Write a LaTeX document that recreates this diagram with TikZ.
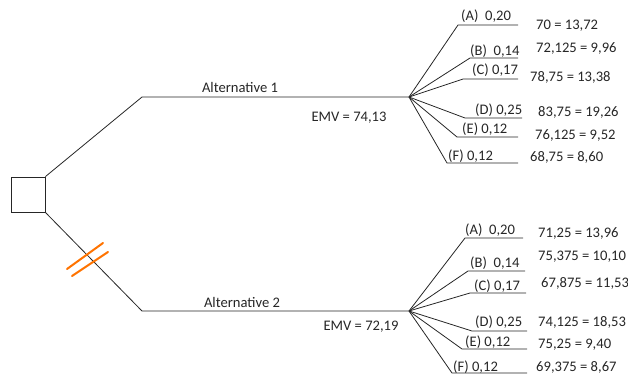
\documentclass[tikz,border=0pt]{standalone}
\usepackage{fontspec}
\setmainfont{Carlito}
\begin{document}
\begin{tikzpicture}[x=1pt,y=-1pt,
  ln/.style={draw=black!85,line width=0.8pt},
  lbl/.style={anchor=west,inner sep=0pt,text=black!85,font=\fontsize{14.6}{16}\selectfont},
  strike/.style={draw=orange!90!red,line width=2pt,line cap=round}]
\useasboundingbox (0,0) rectangle (628,378);
% decision node
\node[draw=black!85,line width=0.8pt,minimum width=34pt,minimum height=35pt,inner sep=0pt] (dec) at (28,194.5) {};
\coordinate (k1) at (142,97);
\coordinate (o1) at (409,97);
\coordinate (k2) at (142,311);
\coordinate (o2) at (409,311);
\draw[ln] (dec.north east) -- (k1) -- (o1);
\draw[ln] (dec.south east) -- (k2) -- (o2);
\node[lbl,anchor=center] (alt1) at (240,87) {Alternative 1};
\node[lbl,anchor=center] (alt2) at (242,302) {Alternative 2};
\node[lbl,anchor=center] (emv1) at (349,118) {EMV = 74,13};
\node[lbl,anchor=center] (emv2) at (361,327) {EMV = 72,19};
% orange strikes
\coordinate (s1a) at (67,269); \coordinate (s1b) at (103,243);
\coordinate (s2a) at (72,276); \coordinate (s2b) at (108,252);
\draw[strike] (s1a) -- (s1b);
\draw[strike] (s2a) -- (s2b);
% top fan
\foreach \n/\xs/\y/\xe in {a/458/25/518, b/470/58/518, c/463/79/518, d/465/118/522, e/457/137/518, f/447/163/518}{
  \coordinate (t\n s) at (\xs,\y); \coordinate (t\n e) at (\xe,\y);
  \draw[ln] (o1) -- (t\n s) -- (t\n e);
}
\node[lbl] (tal) at (461,16) {(A)\ \ 0,20};
\node[lbl] (tbl) at (470,51) {(B)\ \ 0,14};
\node[lbl] (tcl) at (472,70) {(C) 0,17};
\node[lbl] (tdl) at (475,110) {(D) 0,25};
\node[lbl] (tel) at (462,129) {(E) 0,12};
\node[lbl] (tfl) at (448,156) {(F) 0,12};
\node[lbl] (tav) at (536,26) {70 = 13,72};
\node[lbl] (tbv) at (536,49) {72,125 = 9,96};
\node[lbl] (tcv) at (530,77) {78,75 = 13,38};
\node[lbl] (tdv) at (538,112) {83,75 = 19,26};
\node[lbl] (tev) at (535,135) {76,125 = 9,52};
\node[lbl] (tfv) at (530,157) {68,75 = 8,60};
% bottom fan
\foreach \n/\xs/\y/\xe in {a/465/238/523, b/468/271/525, c/470/293/526, d/472/331/527, e/462/349/527, f/452/373/527}{
  \coordinate (b\n s) at (\xs,\y); \coordinate (b\n e) at (\xe,\y);
  \draw[ln] (o2) -- (b\n s) -- (b\n e);
}
\node[lbl] (bal) at (465,230) {(A)\ \ 0,20};
\node[lbl] (bbl) at (470,263) {(B)\ \ 0,14};
\node[lbl] (bcl) at (474,286) {(C) 0,17};
\node[lbl] (bdl) at (475,322) {(D) 0,25};
\node[lbl] (bel) at (465,342) {(E) 0,12};
\node[lbl] (bfl) at (453,367) {(F) 0,12};
\node[lbl] (bav) at (538,233) {71,25 = 13,96};
\node[lbl] (bbv) at (538,257) {75,375 = 10,10};
\node[lbl] (bcv) at (541,283) {67,875 = 11,53};
\node[lbl] (bdv) at (538,322) {74,125 = 18,53};
\node[lbl] (bev) at (538,345) {75,25 = 9,40};
\node[lbl] (bfv) at (536,367) {69,375 = 8,67};
\end{tikzpicture}
\end{document}
